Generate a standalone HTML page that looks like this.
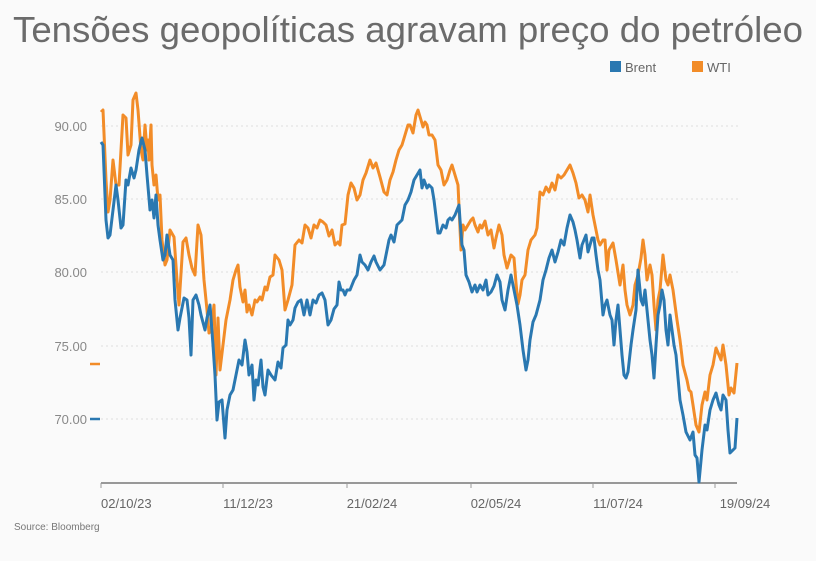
<!DOCTYPE html>
<html><head><meta charset="utf-8"><style>
html,body{margin:0;padding:0;background:#fafafa;}
body{width:816px;height:561px;overflow:hidden;font-family:"Liberation Sans",sans-serif;}
</style></head><body>
<svg width="816" height="561" xmlns="http://www.w3.org/2000/svg" style="display:block">
<rect width="816" height="561" fill="#fafafa"/>
<text x="13" y="42" textLength="790" lengthAdjust="spacingAndGlyphs" font-size="36" fill="#6b6b6b" font-family="Liberation Sans, sans-serif">Tensões geopolíticas agravam preço do petróleo</text>
<rect x="610" y="61" width="11" height="11" fill="#2a78b1"/>
<text x="625" y="72" font-size="13" fill="#666">Brent</text>
<rect x="692" y="61" width="11" height="11" fill="#f28c28"/>
<text x="707" y="72" font-size="13" fill="#666">WTI</text>
<g stroke="#ddd" stroke-dasharray="2,3" stroke-width="1">
<line x1="101" y1="126" x2="740" y2="126"/><line x1="101" y1="199" x2="740" y2="199"/>
<line x1="101" y1="272" x2="740" y2="272"/><line x1="101" y1="346" x2="740" y2="346"/>
<line x1="101" y1="419" x2="740" y2="419"/></g>
<g font-size="13" fill="#888" text-anchor="end">
<text x="87" y="131">90.00</text><text x="87" y="204">85.00</text><text x="87" y="277">80.00</text>
<text x="87" y="351">75.00</text><text x="87" y="424">70.00</text></g>
<line x1="90" y1="364" x2="100" y2="364" stroke="#f28c28" stroke-width="2.5"/>
<line x1="90" y1="419" x2="100" y2="419" stroke="#2a78b1" stroke-width="2.5"/>
<line x1="101" y1="483" x2="737" y2="483" stroke="#777" stroke-width="1.5"/>
<g stroke="#999"><line x1="101" y1="483" x2="101" y2="488"/><line x1="223" y1="483" x2="223" y2="488"/><line x1="347" y1="483" x2="347" y2="488"/><line x1="471" y1="483" x2="471" y2="488"/><line x1="593" y1="483" x2="593" y2="488"/><line x1="715" y1="483" x2="715" y2="488"/></g>
<g font-size="13" fill="#666" text-anchor="middle">
<text x="101" y="508" text-anchor="start">02/10/23</text><text x="248" y="508">11/12/23</text><text x="372" y="508">21/02/24</text>
<text x="496" y="508">02/05/24</text><text x="618" y="508">11/07/24</text><text x="745" y="508">19/09/24</text></g>
<text x="14" y="530" font-size="10" fill="#777">Source: Bloomberg</text>
<polyline fill="none" stroke="#f28c28" stroke-width="3" stroke-linejoin="round" points="101,112 103,110 106,180 108,212 110,200 113,160 116,185 119,185 123,115 126,118 128,155 131,145 133,100 136,93 138,110 141,150 143,160 145,125 147,150 148,140 149,160 151,125 152,165 154,185 156,175 158,200 160,195 162,240 165,265 167,260 170,230 174,237 177,280 179,305 183,242 186,238 189,255 192,268 195,275 198,225 201,235 204,280 207,310 209,333 211,330 214,305 216,375 218,318 220,370 223,345 226,320 228,310 230,300 233,280 236,270 238,265 240,287 243,302 245,290 247,312 249,305 252,315 255,300 257,302 260,297 262,300 265,287 267,290 270,277 273,275 275,255 279,260 282,270 285,310 288,300 292,285 295,245 299,240 302,243 305,225 308,228 311,238 314,225 317,228 320,220 323,222 326,225 329,236 332,230 335,245 338,242 340,245 342,225 345,224 348,195 351,183 354,188 357,200 360,195 363,180 366,173 370,160 373,168 376,163 380,177 384,192 387,195 390,180 393,172 396,160 399,150 402,145 405,135 408,125 410,125 413,133 416,115 418,110 421,120 423,127 425,122 427,125 429,135 432,135 435,140 438,165 441,170 444,185 447,180 450,170 452,165 455,175 458,185 461,250 463,225 465,230 468,225 471,220 473,218 475,225 478,232 480,225 482,228 485,221 488,235 491,230 494,248 496,238 499,225 502,235 504,255 507,268 511,255 514,258 516,283 518,304 520,295 522,280 525,275 528,250 531,240 535,235 537,228 540,192 543,195 546,187 549,192 552,183 555,190 558,175 561,178 564,175 567,170 570,165 573,173 576,183 579,198 582,195 585,200 588,212 590,195 593,215 596,230 598,240 600,245 603,240 605,240 607,270 609,250 613,243 616,260 620,285 623,265 625,290 627,305 630,315 633,305 635,285 638,275 641,258 643,240 645,255 647,280 650,265 652,275 654,305 656,330 658,300 660,290 663,255 666,280 668,285 670,275 673,290 675,305 677,320 680,340 683,365 687,380 689,390 691,392 693,405 696,425 699,432 702,405 705,392 707,400 710,375 713,365 716,348 719,355 721,360 723,345 726,365 729,395 731,388 734,393 737,363"/>
<polyline fill="none" stroke="#2a78b1" stroke-width="3" stroke-linejoin="round" points="101,142 103,145 106,220 108,238 110,235 113,210 116,185 118,200 121,228 123,225 126,180 128,185 131,168 134,178 136,170 139,150 142,138 145,150 147,175 150,210 152,200 154,218 156,195 158,225 160,240 163,260 165,255 167,235 170,255 173,260 175,300 178,330 180,318 184,298 187,300 189,318 191,355 193,300 196,295 199,305 201,315 205,330 207,318 210,305 213,345 215,375 217,420 219,402 222,400 225,438 227,410 230,395 233,390 236,375 239,360 242,365 245,340 247,352 249,375 252,365 254,400 256,380 258,385 261,360 263,387 265,395 268,370 271,375 275,380 278,362 281,368 283,348 286,345 288,320 290,325 293,320 295,308 298,302 301,300 304,315 307,300 310,315 313,300 316,303 319,295 322,293 325,300 328,325 331,320 334,309 337,305 339,282 341,290 343,290 345,295 347,290 350,290 352,285 354,280 357,275 360,255 362,262 365,265 368,270 371,262 374,256 376,262 380,270 384,265 386,255 389,240 391,235 394,242 397,225 400,222 402,220 405,205 408,200 411,192 414,180 417,175 420,170 422,188 424,180 427,188 429,185 432,188 434,200 438,233 440,233 443,225 446,228 448,220 450,218 452,220 455,215 459,205 460,220 462,245 464,250 466,275 469,282 472,292 475,285 477,292 480,285 483,290 486,280 488,295 491,292 494,286 497,275 500,282 502,300 505,310 508,290 511,275 514,290 517,305 520,325 523,350 526,370 528,360 530,340 533,322 536,315 540,300 543,280 546,270 549,258 552,250 555,262 558,252 561,240 564,245 567,228 570,215 573,222 575,230 577,240 580,258 582,245 584,240 586,235 588,252 590,245 592,238 594,238 596,255 598,270 600,280 603,315 605,305 607,300 610,315 612,320 614,345 616,320 618,305 620,330 622,355 624,375 626,378 628,372 631,345 633,330 636,310 638,270 641,300 643,305 645,290 648,320 650,340 652,355 654,378 656,345 658,315 660,305 662,290 664,300 666,330 668,345 670,315 672,330 674,345 676,355 680,400 683,415 686,432 690,440 693,432 695,455 697,458 699,482 702,450 705,425 707,430 710,410 713,400 716,393 719,405 721,410 723,395 726,400 728,430 730,453 733,450 735,448 737,418"/>
</svg>
</body></html>
